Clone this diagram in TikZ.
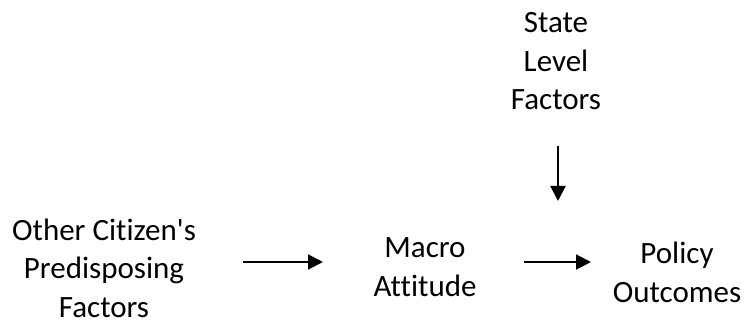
\documentclass[tikz,border=0pt]{standalone}
\usepackage{fontspec}
\setmainfont{Carlito}[Ligatures={TeXOff,NoCommon}]
\usetikzlibrary{arrows.meta}
\begin{document}
\begin{tikzpicture}[x=1pt,y=-1pt,
  lbl/.style={align=center,anchor=base,inner sep=0pt,font=\fontsize{31}{38.5}\selectfont},
  arr/.style={line width=2pt,-{Triangle[length=15pt,width=15pt]}}]
\useasboundingbox (0,0) rectangle (745,326);
\node[lbl] (state) at (556,110) {State\\Level\\Factors};
\node[lbl] (other) at (104,317) {Other Citizen's\\Predisposing\\Factors};
\node[lbl] (macro) at (425,296) {Macro\\Attitude};
\node[lbl] (policy) at (677,302) {Policy\\Outcomes};
\coordinate (a1s) at (243,262);
\coordinate (a1e) at (323,262);
\coordinate (a2s) at (524,262);
\coordinate (a2e) at (591,262);
\coordinate (a3s) at (558,146);
\coordinate (a3e) at (558,201);
\draw[arr] (a1s) -- (a1e);
\draw[arr] (a2s) -- (a2e);
\draw[arr] (a3s) -- (a3e);
\end{tikzpicture}
\end{document}
